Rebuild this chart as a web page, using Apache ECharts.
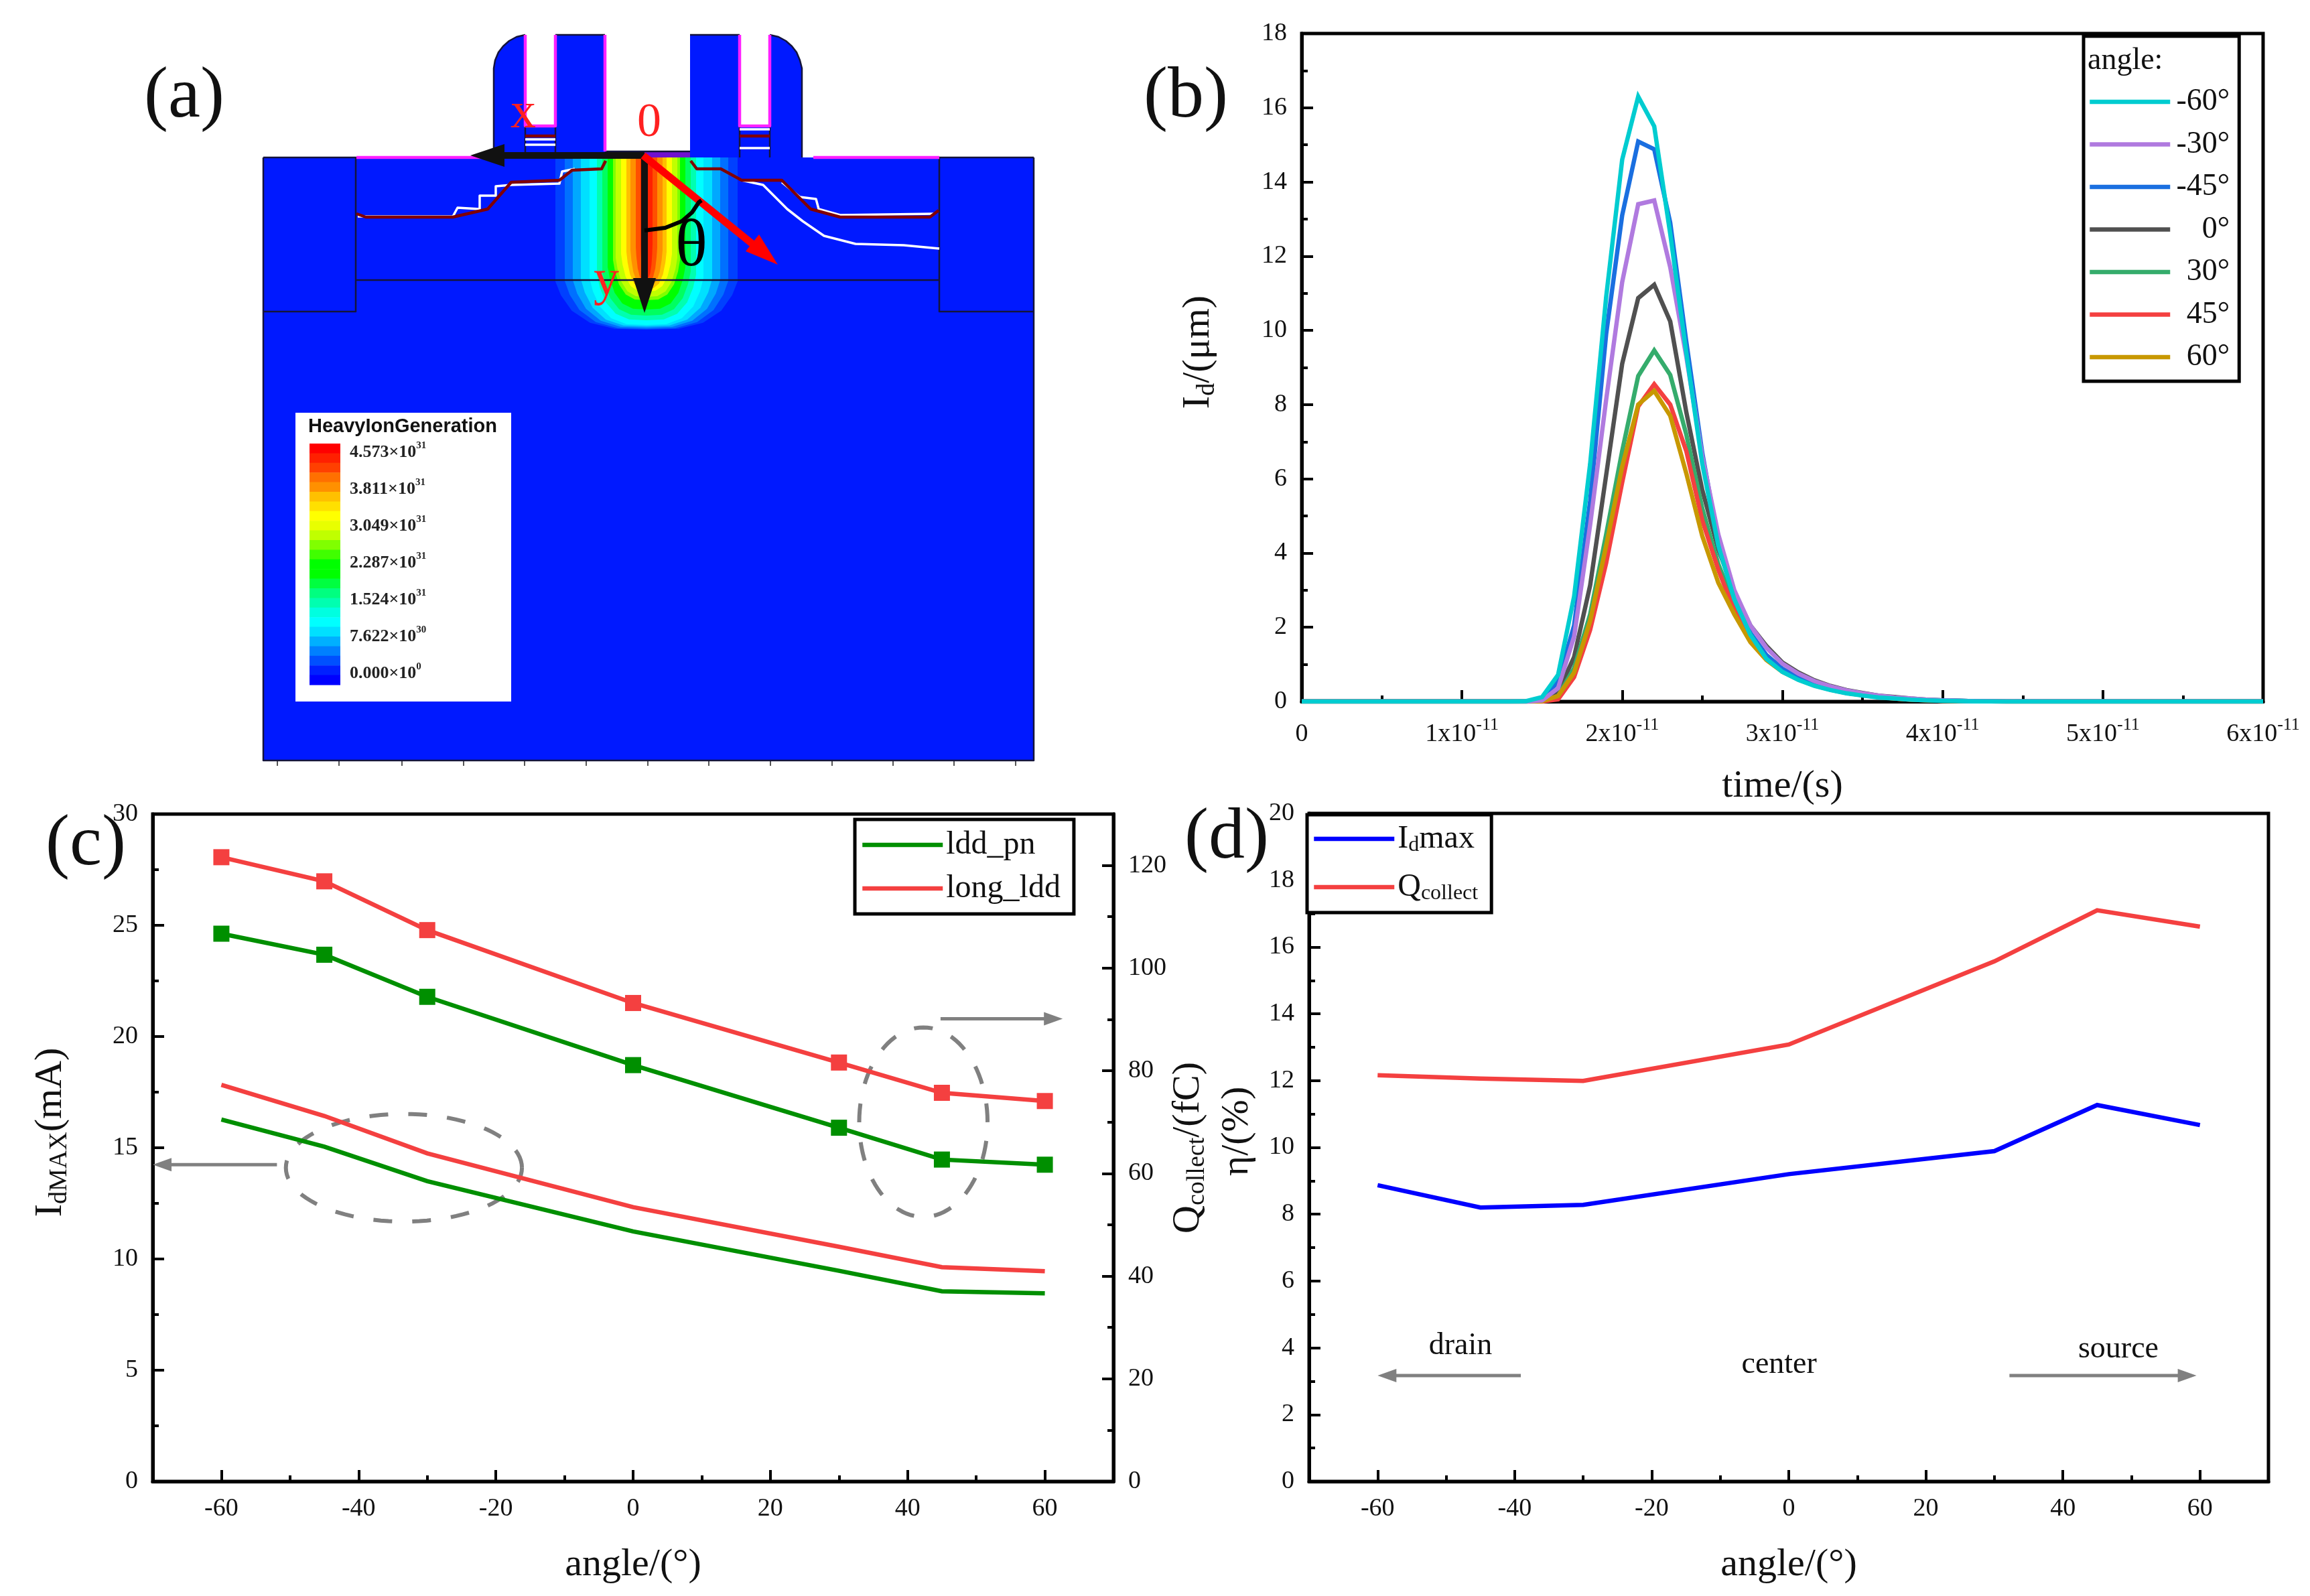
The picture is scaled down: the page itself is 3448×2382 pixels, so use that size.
<!DOCTYPE html>
<html>
<head>
<meta charset="utf-8">
<style>html,body{margin:0;padding:0;background:#fff}#c{width:3448px;height:2382px}</style>
<script src="https://cdn.jsdelivr.net/npm/echarts@6/dist/echarts.min.js"></script>
</head>
<body>
<div id="c"></div>
<script>
// ---------- panel (b) data: time in units of 1e-11 s, drain current ----------
const timeValues = [0,1.3,1.4,1.5,1.6,1.7,1.8,1.9,2.0,2.1,2.2,2.3,2.4,2.5,2.6,2.7,2.8,2.9,3.0,3.1,3.2,3.3,3.4,3.5,3.6,3.7,3.8,3.9,4.0,4.2,4.4,6];
const idNeg60 = [0,0,.01,.12,.72,2.83,6.4,10.9,14.6,16.3,15.5,12.6,9.4,6.4,4.2,2.75,1.8,1.15,.8,.58,.42,.31,.22,.16,.11,.08,.05,.03,.02,.005,0,0];
const idNeg45 = [0,0,0,.06,.54,2.05,5.4,9.9,13.1,15.09,14.88,12.9,9.7,6.7,4.3,2.85,1.85,1.25,.88,.65,.47,.35,.25,.18,.13,.09,.06,.04,.03,.01,0,0];
const idNeg30 = [0,0,0,.03,.36,1.75,4.76,8.13,11.3,13.4,13.5,11.7,9.3,6.6,4.5,3.0,2.05,1.45,1.02,.75,.55,.41,.3,.22,.16,.11,.08,.05,.03,.01,.003,0];
const id0 = [0,0,0,.01,.25,1.2,3.13,6.1,9.1,10.87,11.23,10.24,7.8,5.7,4.1,2.95,2.05,1.5,1.05,.78,.57,.42,.31,.23,.16,.12,.08,.05,.03,.01,0,0];
const id30 = [0,0,0,0,.15,.9,2.35,4.5,6.75,8.77,9.46,8.8,7.2,5.2,3.7,2.6,1.75,1.25,.88,.65,.47,.35,.25,.18,.13,.09,.06,.04,.03,.01,0,0];
const id45 = [0,0,0,0,.06,.66,1.93,3.73,5.9,7.95,8.55,8.0,6.75,4.88,3.55,2.45,1.65,1.15,.82,.6,.44,.32,.23,.17,.12,.08,.05,.03,.02,.01,0,0];
const id60 = [0,0,0,.01,.15,.78,2.17,4.2,6.33,8.0,8.37,7.7,6.15,4.46,3.2,2.35,1.6,1.12,.8,.59,.43,.32,.23,.17,.12,.08,.05,.03,.02,.01,0,0];
const legendAngles = ['-60°','-30°','-45°','0°','30°','45°','60°'];

// ---------- panels (c) and (d) data ----------
const angles = [-60,-45,-30,0,30,45,60];
const idmaxLddPn = [16.27,15.05,13.5,11.24,9.47,8.55,8.46];
const idmaxLongLdd = [17.83,16.43,14.75,12.33,10.55,9.63,9.45];
const qLddPn = [106.7,102.6,94.4,81.1,68.9,62.7,61.7];
const qLongLdd = [121.6,116.9,107.4,93.2,81.6,75.7,74.1];
const etaIdmax = [8.87,8.2,8.28,9.2,9.89,11.27,10.67];
const etaQ = [12.16,12.06,11.99,13.08,15.57,17.1,16.61];
const angleMajor = [-60,-40,-20,0,20,40,60];
const angleMinor = [-50,-30,-10,10,30,50];
const qMajor = [0,20,40,60,80,100,120];
const qMinor = [10,30,50,70,90,110];
// [centre angle, centre I, radius angle, radius I]
const cEllipses = [[-33.4,14.1,17.2,2.42],[42.3,16.15,9.35,4.26]];
// [x1, y1, x2, y2] on the panel's axes
const cArrows = [[-51.9,14.24,-70,14.24],[44.8,20.8,62.6,20.8]];
const dArrows = [[-39.1,3.17,-60,3.17],[32.2,3.17,59.5,3.17]];
const dNotes = [['drain',-47.9,4.05],['center',-1.4,3.5],['source',48.1,3.95]];

// ---------- panel (a) device cross-section, in device units ----------
const deviceTicks = [21,113,207,299,390,482,574,665,757,849,940,1031,1123];
const blobCentre = 572, surface = 183;
const blobOutline = [[-1,0],[-1,.72],[-.94,.8],[-.82,.89],[-.62,.96],[-.35,.995],[0,1],[.35,.995],[.62,.96],[.82,.89],[.94,.8],[1,.72],[1,0]];
const blobLevels = [['#0040ff',136,257],['#0070ff',122,256],['#00a8ff',110,254],['#00e0ff',98,252],['#00ffff',85,250],['#00ffb0',74,243],['#00ff60',66,236],['#00ff00',58,227],['#80ff00',50,213],['#c0ff00',46,208],['#ffff00',38,200],['#ffc000',30,196],['#ff9000',24,192],['#ff5000',16,186],['#ff2000',9,180]];
const gateBlocks = [
  [[344,183],[344,50],[346,38],[351,26],[358,17],[367,9],[378,3],[391,0],[391,183]],
  [[391,136],[436,136],[436,183],[391,183]],
  [[436,0],[510,0],[510,183],[436,183]],
  [[637,0],[711,0],[711,183],[637,183]],
  [[711,136],[756,136],[756,183],[711,183]],
  [[756,0],[769,3],[780,9],[789,17],[796,26],[801,38],[804,50],[804,183],[756,183]]
];
const channelStrip = [[510,174],[637,174],[637,183],[510,183]];
const substrate = [[0,183],[1150,183],[1150,1083],[0,1083]];
const magentaLines = [
  [[391,0],[391,136],[436,136],[436,0]],[[510,0],[510,174]],
  [[711,0],[711,136],[756,136],[756,0]],[[139,183],[340,183]],[[821,183],[1009,183]]
];
const darkLines = [
  [[0,183],[138,183],[138,413],[0,413]],[[1150,413],[1009,413],[1009,183],[1150,183]],[[138,366],[1009,366]],
  [[344,183],[344,50],[346,38],[351,26],[358,17],[367,9],[378,3],[391,0]],[[756,0],[769,3],[780,9],[789,17],[796,26],[801,38],[804,50],[804,183]],
  [[436,0],[510,0]],[[637,0],[711,0]],[[436,136],[436,183]],[[391,136],[391,183]],[[711,136],[711,183]],[[756,136],[756,183]],
  [[510,174],[637,174]],[[0,183],[0,1083],[1150,1083],[1150,183]]
];
const whiteLines = [
  [[141,271],[283,271],[290,258],[323,260],[323,240],[347,240],[347,226],[370,224],[442,222],[446,204],[465,200]],
  [[683,200],[714,217],[746,224],[782,260],[805,278],[837,300],[884,312],[956,314],[1009,319]],
  [[774,220],[801,242],[825,245],[829,260],[861,269],[1003,267]],
  [[391,156],[436,156]],[[391,164],[436,164]],[[711,141],[756,141]],[[711,169],[756,169]]
];
const junctionLines = [
  [[139,267],[153,272],[283,272],[335,260],[370,220],[442,217],[461,202],[505,200],[511,188]],
  [[638,188],[647,200],[683,200],[714,217],[774,217],[817,260],[861,272],[995,272],[1008,262]],
  [[391,151],[436,151]],[[711,151],[756,151]]
];
const blackArrows = [[[569,180],[340,180]],[[569,180],[569,380]]];
const blackHeads = [[[309,180],[360,163],[360,197]],[[569,415],[552,363],[586,363]]];
const redArrow = [[567,180],[735,316]];
const redHead = [[768,343],[720,323],[740,298]];
const thetaArc = [[569,292],[600,288],[625,278],[640,265],[650,250],[654,247]];
const legendPanel = [[48,564],[370,564],[370,995],[48,995]];
const colorBarSteps = ['#ff0000','#ff2000','#ff4000','#ff7000','#ff9000','#ffc000','#ffe000','#ffff00','#e8ff00','#c0ff00','#80ff00','#40ff00','#00ff00','#00ff00','#00ff40','#00ff80','#00ffb0','#00ffe0','#00ffff','#00e0ff','#00b0ff','#0080ff','#0050ff','#0020ff','#0000ff'];
const colorBarTexts = [['4.573×10','31'],['3.811×10','31'],['3.049×10','31'],['2.287×10','31'],['1.524×10','31'],['7.622×10','30'],['0.000×10','0']];
const colorBarY = [623,678,733,788,843,898,953];

// ---------- styling ----------
const SERIF = '"Liberation Serif","Times New Roman",serif';
const BLACK = '#000';
const cyan='#00ccd0',purple='#b07adf',blue='#1a6fe0',gray='#505050',green='#35ac6c',red='#f44040',gold='#c89800';
const cGreen='#008f00', plotBlue='#0000ff', annot='#808080';

const chart = echarts.init(document.getElementById('c'), null, {renderer:'canvas', width:3448, height:2382});

function pairs(xs, ys){ return xs.map((x,i)=>[x,ys[i]]); }

// layers of panel (a): each layer is polygon or polyline in device units
const deviceLayers = [];
const addPoly = (pts, fill) => deviceLayers.push({pts, fill});
const addLine = (pts, stroke, w) => deviceLayers.push({pts, stroke, w});
addPoly(substrate, '#0019ff');
blobLevels.forEach(([col, hw, depth]) => addPoly(blobOutline.map(([u,v]) => [blobCentre + u*hw, surface + v*depth]), col));
gateBlocks.forEach(p => addPoly(p, '#0019ff'));
addPoly(channelStrip, '#7010d0');
darkLines.forEach(p => addLine(p, '#14143c', 2.5));
magentaLines.forEach(p => addLine(p, '#ff20ff', 4.5));
whiteLines.forEach(p => addLine(p, '#ffffff', 3.5));
junctionLines.forEach(p => addLine(p, '#800000', 4.5));
blackArrows.forEach(p => addLine(p, '#111', 10));
blackHeads.forEach(p => addPoly(p, '#111'));
addLine(redArrow, '#ff0000', 11);
addPoly(redHead, '#ff0000');
addLine(thetaArc, '#000', 6);
addPoly(legendPanel, '#ffffff');
const barTop = 610, barStep = 360/colorBarSteps.length;
colorBarSteps.forEach((col,i) => addPoly([[69,barTop+i*barStep],[115,barTop+i*barStep],[115,barTop+(i+1)*barStep+.6],[69,barTop+(i+1)*barStep+.6]], col));

function renderLayer(params, api){
  const l = deviceLayers[api.value(0)];
  const points = l.pts.map(p => api.coord(p));
  if (l.fill) return {type:'polygon', shape:{points}, style:{fill:l.fill}};
  return {type:'polyline', shape:{points}, style:{fill:null, stroke:l.stroke, lineWidth:l.w, lineJoin:'round'}};
}

const deviceTexts = [
  {t:'x', p:[388,118], size:76, col:'#ff2020'},
  {t:'0', p:[576,132], size:72, col:'#ff2020'},
  {t:'y', p:[512,368], size:76, col:'#ff2020'},
  {t:'θ', p:[639,318], size:100, col:'#000'},
  {t:'HeavyIonGeneration', p:[208,585], size:29, col:'#111', sans:true}
];
colorBarTexts.forEach((r,i)=>deviceTexts.push({t:`{m|${r[0]}}{p|${r[1]}}`, p:[129,colorBarY[i]], left:true, bar:true}));

function renderText(params, api){
  const d = deviceTexts[api.value(0)];
  const c = api.coord(d.p);
  if (d.bar) return {type:'text', style:{text:d.t, x:c[0], y:c[1], align:'left', verticalAlign:'middle',
    rich:{m:{fontFamily:SERIF,fontWeight:'bold',fontSize:26,fill:'#222',lineHeight:34,verticalAlign:'middle'},p:{fontFamily:SERIF,fontWeight:'bold',fontSize:15,fill:'#222',lineHeight:26,verticalAlign:'top'}}}};
  return {type:'text', style:{text:d.t, x:c[0], y:c[1], align:'center', verticalAlign:'middle', fontFamily:d.sans?'"Liberation Sans",Arial,sans-serif':SERIF, fontWeight:d.sans?'bold':'normal', fontSize:d.size, fill:d.col}};
}

// shared axis pieces
const tickStyle = {color:BLACK, width:4};
const lineSt = {show:true, onZero:false, lineStyle:{color:BLACK, width:5}};
const noLine = {show:false, onZero:false};
const labelSt = {fontFamily:SERIF, fontSize:38, color:'#111', margin:22};
const richName = {
  i:{fontFamily:SERIF,fontSize:58,color:'#111',lineHeight:64,verticalAlign:'middle'},
  s:{fontFamily:SERIF,fontSize:38,color:'#111',lineHeight:38,verticalAlign:'bottom'}
};
function angleAxis(g){
  return [
    {type:'value', gridIndex:g, min:-70, max:70, position:'bottom', name:'angle/(°)', nameLocation:'middle', nameGap:96,
     nameTextStyle:{fontFamily:SERIF,fontSize:58,color:'#111'},
     axisLine:lineSt, splitLine:{show:false},
     axisTick:{show:true,inside:true,length:17,lineStyle:tickStyle,customValues:angleMajor},
     axisLabel:Object.assign({},labelSt,{customValues:angleMajor})},
    {type:'value', gridIndex:g, min:-70, max:70, position:'bottom', axisLine:noLine, splitLine:{show:false}, axisLabel:{show:false},
     axisTick:{show:true,inside:true,length:9,lineStyle:tickStyle,customValues:angleMinor}}
  ];
}
function lineSeries(name, color, xAxisIndex, yAxisIndex, xs, ys, symbol, z){
  return {type:'line', name, xAxisIndex, yAxisIndex, data:pairs(xs,ys), showSymbol:!!symbol, symbol:symbol||'none', symbolSize:24,
    lineStyle:{color,width:6.5,join:'miter'}, itemStyle:{color}, z:z||3, silent:true};
}
function arrowSeries(rows, xi, yi){
  return {type:'custom', xAxisIndex:xi, yAxisIndex:yi, data:rows, silent:true, z:4, clip:false,
    renderItem(params, api){
      const a = api.coord([api.value(0),api.value(1)]), b = api.coord([api.value(2),api.value(3)]);
      const dir = Math.sign(b[0]-a[0]);
      return {type:'group', children:[
        {type:'line', shape:{x1:a[0],y1:a[1],x2:b[0]-dir*14,y2:b[1]}, style:{stroke:annot,lineWidth:5}},
        {type:'polygon', shape:{points:[[b[0],b[1]],[b[0]-dir*28,b[1]-10],[b[0]-dir*28,b[1]+10]]}, style:{fill:annot}}
      ]};
    }};
}
function axisLegend(conf){
  return Object.assign({type:'plain', orient:'vertical', itemWidth:120, backgroundColor:'#fff', borderColor:BLACK, borderWidth:5, borderRadius:0, selectedMode:false, align:'left', z:20,
    itemStyle:{opacity:0}, lineStyle:{width:6.5}}, conf);
}
const richLegend = {
  m:{fontFamily:SERIF,fontSize:48,color:'#111',lineHeight:52,verticalAlign:'middle'},
  s:{fontFamily:SERIF,fontSize:32,color:'#111',lineHeight:32,verticalAlign:'bottom'},
  r:{fontFamily:SERIF,fontSize:46,color:'#111',width:84,align:'right',lineHeight:46}
};

const option = {
  backgroundColor:'#fff',
  animation:false,
  grid:[
    {left:393,top:52,width:1150,height:1083,show:false},
    {left:1943,top:50,width:1435,height:997,show:true,borderColor:BLACK,borderWidth:5,backgroundColor:'#fff'},
    {left:228,top:1215,width:1434,height:996,show:true,borderColor:BLACK,borderWidth:5,backgroundColor:'#fff'},
    {left:1954,top:1214,width:1432,height:997,show:true,borderColor:BLACK,borderWidth:5,backgroundColor:'#fff'}
  ],
  xAxis:[
    {type:'value',gridIndex:0,min:0,max:1150,position:'bottom',axisLine:noLine,splitLine:{show:false},axisLabel:{show:false},
     axisTick:{show:true,length:8,lineStyle:{color:'#555',width:2},customValues:deviceTicks}},
    {type:'value',gridIndex:1,min:0,max:6,interval:1,position:'bottom',name:'time/(s)',nameLocation:'middle',nameGap:98,
     nameTextStyle:{fontFamily:SERIF,fontSize:58,color:'#111'},
     axisLine:lineSt,splitLine:{show:false},
     axisTick:{show:true,inside:true,length:17,lineStyle:tickStyle},
     minorTick:{show:true,splitNumber:2,length:9,lineStyle:tickStyle},
     axisLabel:Object.assign({},labelSt,{
       formatter:v=>v===0?'{m|0}':`{m|${v}x10}{p|-11}`,
       rich:{m:{fontFamily:SERIF,fontSize:38,color:'#111',lineHeight:54,verticalAlign:'middle'},p:{fontFamily:SERIF,fontSize:26,color:'#111',lineHeight:30,verticalAlign:'top'}}
     })},
    ...angleAxis(2),
    ...angleAxis(3)
  ],
  yAxis:[
    {type:'value',gridIndex:0,min:0,max:1083,inverse:true,show:false},
    {type:'value',gridIndex:1,min:0,max:18,interval:2,name:'{i|I}{s|d}{i|/(μm)}',nameLocation:'middle',nameRotate:90,nameGap:122,
     nameTextStyle:{rich:richName,padding:[0,0,0,46]},
     axisLine:lineSt,splitLine:{show:false},
     axisTick:{show:true,inside:true,length:17,lineStyle:tickStyle},
     minorTick:{show:true,splitNumber:2,length:9,lineStyle:tickStyle},
     axisLabel:labelSt},
    {type:'value',gridIndex:2,min:0,max:30,interval:5,position:'left',name:'{i|I}{s|dMAX}{i|(mA)}',nameLocation:'middle',nameRotate:90,nameGap:120,
     nameTextStyle:{rich:richName,padding:[0,0,0,46]},
     axisLine:lineSt,splitLine:{show:false},
     axisTick:{show:true,inside:true,length:17,lineStyle:tickStyle},
     minorTick:{show:true,splitNumber:2,length:9,lineStyle:tickStyle},
     axisLabel:labelSt},
    {type:'value',gridIndex:2,min:0,max:130,position:'right',name:'{i|Q}{s|collect}{i|/(fC)}',nameLocation:'middle',nameRotate:90,nameGap:63,
     nameTextStyle:{rich:richName},
     axisLine:lineSt,splitLine:{show:false},
     axisTick:{show:true,inside:true,length:17,lineStyle:tickStyle,customValues:qMajor},
     axisLabel:Object.assign({},labelSt,{customValues:qMajor})},
    {type:'value',gridIndex:2,min:0,max:130,position:'right',axisLine:noLine,splitLine:{show:false},axisLabel:{show:false},
     axisTick:{show:true,inside:true,length:9,lineStyle:tickStyle,customValues:qMinor}},
    {type:'value',gridIndex:3,min:0,max:20,interval:2,name:'η/(%)',nameLocation:'middle',nameRotate:90,nameGap:78,
     nameTextStyle:{fontFamily:SERIF,fontSize:58,color:'#111',padding:[0,0,0,48]},
     axisLine:lineSt,splitLine:{show:false},
     axisTick:{show:true,inside:true,length:17,lineStyle:tickStyle},
     minorTick:{show:true,splitNumber:2,length:9,lineStyle:tickStyle},
     axisLabel:labelSt}
  ],
  legend:[
    axisLegend({left:3110,top:54,itemHeight:46,itemGap:17.5,padding:[75,14,13,6],textStyle:{rich:richLegend},
      formatter:n=>`{r|${n}}`,data:legendAngles}),
    axisLegend({left:1276,top:1223,itemHeight:46,itemGap:17,padding:[14,20,14,8],textStyle:{rich:richLegend},
      formatter:n=>`{m|${n}}`,data:['ldd_pn','long_ldd']}),
    axisLegend({left:1951,top:1216,itemHeight:50,itemGap:22,padding:[12,20,12,7],textStyle:{rich:richLegend},
      formatter:n=>n==='Idmax'?'{m|I}{s|d}{m|max}':'{m|Q}{s|collect}',data:['Idmax','Qcollect']})
  ],
  series:[
    // panel (a)
    {type:'custom',xAxisIndex:0,yAxisIndex:0,silent:true,clip:false,z:2,data:deviceLayers.map((_,i)=>[i,0]),renderItem:renderLayer},
    {type:'custom',xAxisIndex:0,yAxisIndex:0,silent:true,clip:false,z:3,data:deviceTexts.map((_,i)=>[i,0]),renderItem:renderText},
    // panel (b)
    lineSeries('0°',gray,1,1,timeValues,id0),
    lineSeries('30°',green,1,1,timeValues,id30),
    lineSeries('45°',red,1,1,timeValues,id45),
    lineSeries('60°',gold,1,1,timeValues,id60),
    lineSeries('-45°',blue,1,1,timeValues,idNeg45),
    lineSeries('-30°',purple,1,1,timeValues,idNeg30),
    lineSeries('-60°',cyan,1,1,timeValues,idNeg60),
    // panel (c)
    {type:'custom',xAxisIndex:2,yAxisIndex:2,silent:true,clip:false,z:2,data:cEllipses,renderItem(params,api){
      const cx=api.value(0),cy=api.value(1),rx=api.value(2),ry=api.value(3),points=[];
      for(let k=0;k<=96;k++){const t=k/96*2*Math.PI;points.push(api.coord([cx+rx*Math.cos(t),cy+ry*Math.sin(t)]));}
      return {type:'polyline',shape:{points},style:{fill:null,stroke:annot,lineWidth:6,lineDash:[28,30]}};
    }},
    lineSeries('ldd_pn',cGreen,2,2,angles,idmaxLddPn),
    lineSeries('long_ldd',red,2,2,angles,idmaxLongLdd),
    lineSeries('ldd_pn',cGreen,2,3,angles,qLddPn,'rect'),
    lineSeries('long_ldd',red,2,3,angles,qLongLdd,'rect'),
    arrowSeries(cArrows,2,2),
    // panel (d)
    lineSeries('Idmax',plotBlue,4,5,angles,etaIdmax),
    lineSeries('Qcollect',red,4,5,angles,etaQ),
    arrowSeries(dArrows,4,5),
    {type:'custom',xAxisIndex:4,yAxisIndex:5,silent:true,clip:false,z:4,data:dNotes.map(r=>[r[1],r[2]]),renderItem(params,api){
      const c=api.coord([api.value(0),api.value(1)]);
      return {type:'text',style:{text:dNotes[params.dataIndex][0],x:c[0],y:c[1],align:'center',verticalAlign:'middle',fontFamily:SERIF,fontSize:46,fill:'#111'}};
    }}
  ],
  graphic:[
    {type:'text',left:215,top:92,z:30,style:{text:'(a)',fontFamily:SERIF,fontSize:108,fill:'#111'}},
    {type:'text',left:1707,top:92,z:30,style:{text:'(b)',fontFamily:SERIF,fontSize:108,fill:'#111'}},
    {type:'text',left:68,top:1208,z:30,style:{text:'(c)',fontFamily:SERIF,fontSize:108,fill:'#111'}},
    {type:'text',left:1768,top:1198,z:30,style:{text:'(d)',fontFamily:SERIF,fontSize:108,fill:'#111'}},
    {type:'text',left:3116,top:68,z:30,style:{text:'angle:',fontFamily:SERIF,fontSize:46,fill:'#111'}}
  ]
};
chart.setOption(option);
</script>
</body>
</html>
